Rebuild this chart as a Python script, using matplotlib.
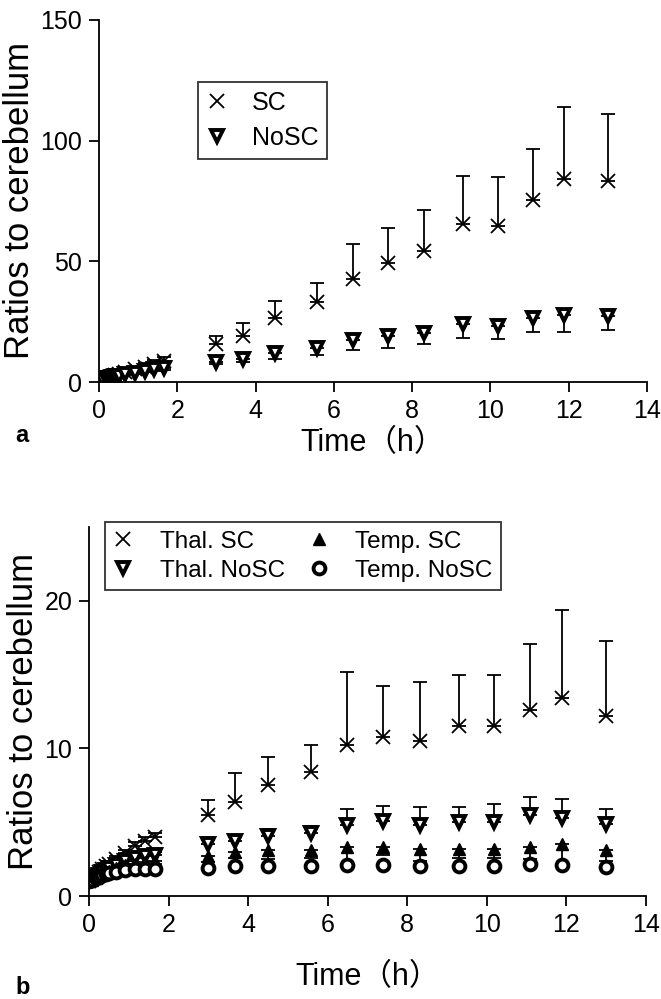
# Two-panel chart: ratios to cerebellum over time, with one-sided error bars
import numpy as np
import matplotlib
matplotlib.use("Agg")
import matplotlib.pyplot as plt
from matplotlib.lines import Line2D

plt.rcParams['font.family'] = ['Liberation Sans', 'Noto Sans CJK JP']

# sampling times (h)
time_h = [0, 0.083, 0.167, 0.25, 0.333, 0.417, 0.5, 0.667, 0.917, 1.167, 1.417, 1.667,
          3.0, 3.68, 4.49, 5.57, 6.49, 7.39, 8.31, 9.29, 10.19, 11.09, 11.89, 13.0]

# panel a
sc_a = [1.0, 1.3, 1.7, 2.1, 2.5, 3.0, 3.4, 4.2, 5.3, 6.4, 7.5, 8.6,
        15.7, 19.2, 26.7, 33.3, 42.5, 49.2, 54.3, 65.3, 64.6, 75.4, 84.1, 83.3]
sc_a_err = [0.2, 0.3, 0.4, 0.5, 0.6, 0.7, 0.8, 0.9, 1.1, 1.3, 1.5, 1.7,
            3.5, 5.4, 6.9, 7.6, 14.5, 14.5, 17.0, 20.2, 20.5, 21.0, 30.0, 27.8]
nosc_a = [1.0, 1.2, 1.5, 1.8, 2.1, 2.4, 2.7, 3.2, 3.9, 4.6, 5.2, 5.8,
          8.4, 9.4, 12.1, 14.0, 17.4, 19.1, 20.4, 23.9, 23.2, 26.6, 27.8, 27.4]
nosc_a_err = [0.1, 0.1, 0.2, 0.2, 0.3, 0.3, 0.4, 0.4, 0.5, 0.6, 0.7, 0.8,
              0.8, 1.0, 2.4, 3.0, 4.3, 4.9, 4.8, 5.8, 5.5, 5.7, 6.9, 5.9]

# panel b
thal_sc = [1.0, 1.2, 1.4, 1.6, 1.8, 2.0, 2.2, 2.5, 2.9, 3.4, 3.7, 4.0,
           5.5, 6.4, 7.5, 8.4, 10.2, 10.8, 10.5, 11.5, 11.5, 12.6, 13.4, 12.2]
thal_sc_err = [0.05, 0.05, 0.1, 0.1, 0.1, 0.15, 0.15, 0.2, 0.2, 0.25, 0.3, 0.3,
               1.0, 1.9, 1.9, 1.8, 5.0, 3.4, 4.0, 3.5, 3.5, 4.5, 6.0, 5.1]
thal_nosc = [1.0, 1.15, 1.3, 1.45, 1.6, 1.75, 1.9, 2.1, 2.4, 2.6, 2.7, 2.8,
             3.5, 3.7, 4.07, 4.25, 4.8, 5.1, 4.8, 5.0, 5.0, 5.5, 5.3, 4.9]
thal_nosc_err = [0.05, 0.05, 0.05, 0.1, 0.1, 0.1, 0.1, 0.15, 0.15, 0.2, 0.2, 0.2,
                 0.3, 0.3, 0.5, 0.5, 1.1, 1.0, 1.2, 1.0, 1.2, 1.2, 1.3, 1.0]
temp_sc = [1.0, 1.1, 1.25, 1.4, 1.5, 1.6, 1.7, 1.9, 2.1, 2.2, 2.3, 2.4,
           2.7, 3.0, 3.1, 3.1, 3.3, 3.3, 3.2, 3.2, 3.2, 3.3, 3.5, 3.1]
temp_sc_err = [0.05, 0.05, 0.05, 0.1, 0.1, 0.1, 0.1, 0.1, 0.15, 0.15, 0.2, 0.2,
               0.4, 0.4, 0.6, 0.5, 1.2, 0.5, 0.8, 0.6, 0.6, 0.8, 1.3, 0.7]
temp_nosc = [1.0, 1.1, 1.2, 1.3, 1.4, 1.5, 1.55, 1.65, 1.75, 1.8, 1.85, 1.85,
             1.9, 2.0, 2.0, 2.05, 2.1, 2.1, 2.0, 2.0, 2.0, 2.15, 2.1, 1.95]

x_ticks = [0, 2, 4, 6, 8, 10, 12, 14]
yticks_a = [0, 50, 100, 150]
yticks_b = [0, 10, 20]


def one_sided(err, up=True):
    # errorbar wants [lower, upper]
    z = np.zeros(len(err))
    return [z, np.array(err)] if up else [np.array(err), z]


def style_axes(ax):
    for s in ['top', 'right']:
        ax.spines[s].set_visible(False)
    for s in ['left', 'bottom']:
        ax.spines[s].set_linewidth(1.3)
    ax.tick_params(direction='out', length=7, width=1.3, labelsize=18, pad=5)
    ax.set_xlim(0, 14)
    ax.set_xticks(x_ticks)


fig = plt.figure(figsize=(6.61, 9.99), dpi=100)
ax_a = fig.add_axes([0.1498, 0.6176, 0.829, 0.3624])
ax_b = fig.add_axes([0.1346, 0.1031, 0.8427, 0.3694])

eb = dict(fmt='none', ecolor='black', elinewidth=1.3, capsize=5, capthick=1.3)
tri = dict(marker='v', ms=9, mfc='white', mec='black', mew=2.8, ls='none')
circ = dict(marker='o', ms=8.5, mfc='white', mec='black', mew=2.8, ls='none')
cross = dict(marker='x', ms=10, color='black', mew=1.3, ls='none')
up_tri = dict(marker='^', ms=8, color='black', ls='none')

# ---- panel a ----
ax_a.errorbar(time_h, sc_a, yerr=one_sided(sc_a_err, True), **eb)
ax_a.errorbar(time_h, nosc_a, yerr=one_sided(nosc_a_err, False), **eb)
ax_a.plot(time_h, sc_a, **cross)
ax_a.plot(time_h, nosc_a, **tri)
style_axes(ax_a)
ax_a.set_ylim(0, 150)
ax_a.set_yticks(yticks_a)
ax_a.set_ylabel('Ratios to cerebellum', fontsize=25, labelpad=3)
ax_a.set_xlabel('Time（h）', fontsize=22, labelpad=4)

handles_a = [Line2D([], [], **cross), Line2D([], [], **tri)]
fig.legend(handles_a, ['SC', 'NoSC'], loc='upper left',
           bbox_to_anchor=(198 / 661, 1 - 82 / 999), frameon=True, fancybox=False,
           edgecolor='black', fontsize=18, handlelength=0.8, handletextpad=1.0,
           borderpad=0.35, labelspacing=0.45, borderaxespad=0).get_frame().set_linewidth(1.3)

# ---- panel b ----
ax_b.errorbar(time_h, thal_sc, yerr=one_sided(thal_sc_err, True), **eb)
ax_b.errorbar(time_h, thal_nosc, yerr=one_sided(thal_nosc_err, True), **eb)
ax_b.errorbar(time_h, temp_sc, yerr=one_sided(temp_sc_err, False), **eb)
ax_b.plot(time_h, thal_sc, **cross)
ax_b.plot(time_h, thal_nosc, **tri)
ax_b.plot(time_h, temp_sc, **up_tri)
ax_b.plot(time_h, temp_nosc, **circ)
style_axes(ax_b)
ax_b.set_ylim(0, 25)
ax_b.set_yticks(yticks_b)
ax_b.set_ylabel('Ratios to cerebellum', fontsize=25, labelpad=3)
ax_b.set_xlabel('Time（h）', fontsize=22, labelpad=18)

handles_b = [Line2D([], [], **cross), Line2D([], [], **tri),
             Line2D([], [], **up_tri), Line2D([], [], **circ)]
fig.legend(handles_b, ['Thal. SC', 'Thal. NoSC', 'Temp. SC', 'Temp. NoSC'],
           ncol=2, loc='upper left', bbox_to_anchor=(105 / 661, 1 - 522 / 999),
           frameon=True, fancybox=False, edgecolor='black', fontsize=17.5,
           handlelength=0.8, handletextpad=1.1, columnspacing=1.0,
           borderpad=0.35, labelspacing=0.3, borderaxespad=0).get_frame().set_linewidth(1.3)

# panel letters
fig.text(15 / 661, 1 - 436 / 999, 'a', fontsize=17, fontweight='bold', va='center')
fig.text(15 / 661, 1 - 988 / 999, 'b', fontsize=17, fontweight='bold', va='center')

fig.savefig('out.png', dpi=100)
